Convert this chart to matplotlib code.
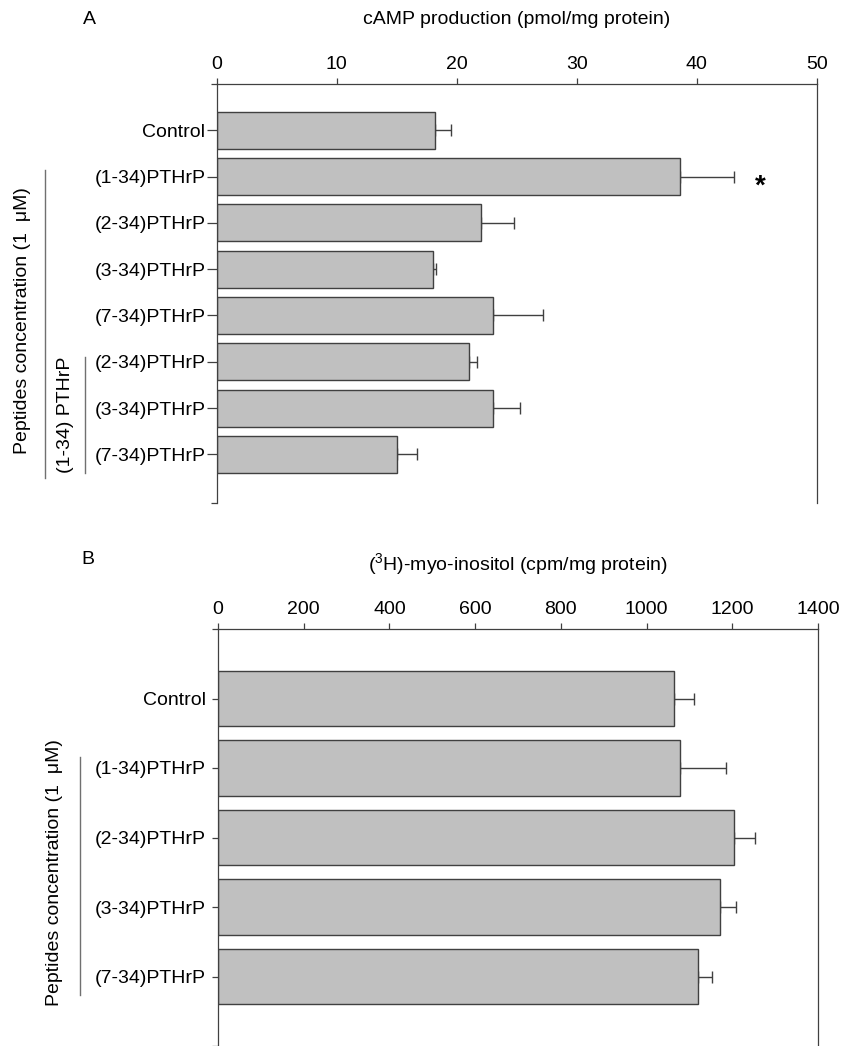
import numpy as np
import matplotlib as mpl
mpl.use('Agg')
from matplotlib import pyplot as plt
from matplotlib.lines import Line2D

plt.rcParams['font.family'] = ['Liberation Sans', 'DejaVu Sans']
plt.rcParams['mathtext.fontset'] = 'custom'
plt.rcParams['mathtext.rm'] = 'Liberation Sans'

# panel A: cAMP production
labels_a = ['Control', '(1-34)PTHrP', '(2-34)PTHrP', '(3-34)PTHrP', '(7-34)PTHrP',
            '(2-34)PTHrP', '(3-34)PTHrP', '(7-34)PTHrP']
camp = [18.2, 38.6, 22.0, 18.0, 23.0, 21.0, 23.0, 15.0]
camp_err = [1.3, 4.5, 2.8, 0.3, 4.2, 0.7, 2.3, 1.7]
xticks_a = [0, 10, 20, 30, 40, 50]

# panel B: myo-inositol
labels_b = ['Control', '(1-34)PTHrP', '(2-34)PTHrP', '(3-34)PTHrP', '(7-34)PTHrP']
inositol = [1064, 1079, 1204, 1172, 1119]
inositol_err = [47, 106, 48, 37, 34]
xticks_b = [0, 200, 400, 600, 800, 1000, 1200, 1400]

W, H = 856, 1046
BAR = '#c0c0c0'
EDGE = '#404040'
FS = 14


def fx(x):
    return x / W


def fy(y):
    return 1 - y / H


def barpanel(ax, labels, vals, errs, xticks, ytop, ybot, ticklen, tickpad):
    pos = np.arange(len(vals))
    ax.barh(pos, vals, height=0.8, color=BAR, edgecolor=EDGE, linewidth=1.0, zorder=2)
    ax.errorbar(vals, pos, xerr=[np.zeros(len(errs)), errs], fmt='none',
                ecolor=EDGE, elinewidth=1.0, capsize=4, capthick=1.0, zorder=1)
    ax.set_xlim(xticks[0], xticks[-1])
    ax.set_ylim(ybot, ytop)
    ax.xaxis.tick_top()
    ax.set_xticks(xticks)
    ax.set_xticklabels([str(t) for t in xticks], fontsize=FS)
    ax.tick_params(axis='x', direction='out', length=4, width=0.9, pad=4, colors=EDGE,
                   labelcolor='black')
    ax.set_yticks(pos)
    ax.set_yticklabels(labels, fontsize=FS)
    ax.set_yticks([ytop, ybot], minor=True)
    ax.tick_params(axis='y', which='major', direction='out', length=ticklen, width=0.9,
                   pad=tickpad, colors=EDGE, labelcolor='black')
    ax.tick_params(axis='y', which='minor', direction='out', length=4, width=0.9, colors=EDGE)
    ax.spines['bottom'].set_visible(False)
    for s in ['top', 'left', 'right']:
        ax.spines[s].set_color(EDGE)
        ax.spines[s].set_linewidth(0.9)


fig = plt.figure(figsize=(W / 100, H / 100), dpi=100)

# panel A
axA = fig.add_axes([fx(216.5), fy(503), fx(817) - fx(216.5), fy(84) - fy(503)])
barpanel(axA, labels_a, camp, camp_err, xticks_a, -1.0, 8.05, 7, 1)
axA.text(camp[1] + camp_err[1] + 2.2, 1.22, '*', fontsize=20, fontweight='bold',
         ha='center', va='center')
fig.text(fx(89), fy(20), 'A', fontsize=FS, ha='center', va='center')
fig.text(fx(516.5), fy(20), 'cAMP production (pmol/mg protein)', fontsize=FS,
         ha='center', va='center')
fig.text(fx(23), fy(321), 'Peptides concentration (1  \u03bcM)', fontsize=FS,
         rotation=90, ha='center', va='center')
fig.text(fx(65), fy(415), '(1-34) PTHrP', fontsize=FS, rotation=90,
         ha='center', va='center')
fig.add_artist(Line2D([fx(45), fx(45)], [fy(170), fy(478)], color='#707070', lw=1.0))
fig.add_artist(Line2D([fx(85), fx(85)], [fy(357), fy(473)], color='#707070', lw=1.0))

# panel B
axB = fig.add_axes([fx(218), fy(1046), fx(818) - fx(218), fy(629) - fy(1046)])
barpanel(axB, labels_b, inositol, inositol_err, xticks_b, -1.0, 5.0, 4, 5)
fig.text(fx(88), fy(560), 'B', fontsize=FS, ha='center', va='center')
fig.text(fx(518), fy(565), '($^\\mathregular{3}$H)-myo-inositol (cpm/mg protein)',
         fontsize=FS, ha='center', va='center')
fig.text(fx(55), fy(873), 'Peptides concentration (1  \u03bcM)', fontsize=FS,
         rotation=90, ha='center', va='center')
fig.add_artist(Line2D([fx(80), fx(80)], [fy(757), fy(995)], color='#707070', lw=1.0))

fig.savefig('out.png', dpi=100)
